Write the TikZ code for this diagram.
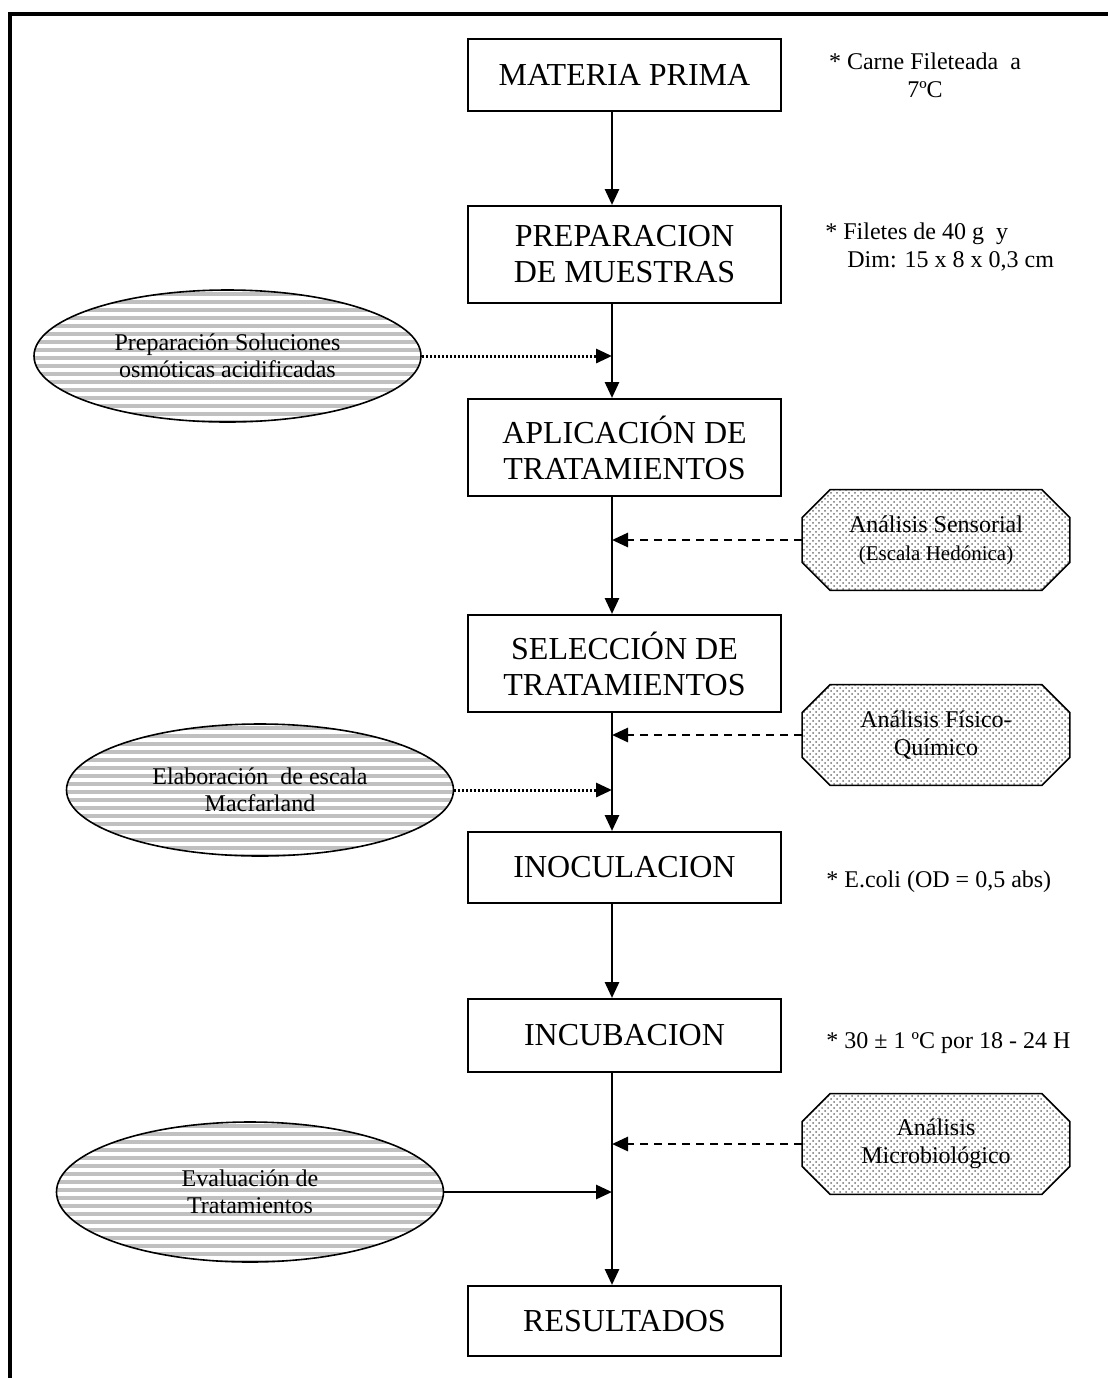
\documentclass[tikz,border=0pt]{standalone}
\usepackage{fontspec}
\setmainfont{Liberation Serif}
\usetikzlibrary{arrows.meta,shapes.geometric,patterns,backgrounds}
\definecolor{stripegray}{RGB}{192,192,192}
\begin{document}
\begin{tikzpicture}[
        x=0.5pt, y=-0.5pt,
        procbox/.style={rectangle,draw,line width=1pt,minimum width=156.5pt,align=center,
            font=\fontsize{16}{18}\selectfont,inner sep=0pt},
        sidenote/.style={font=\fontsize{12}{14}\selectfont,inner sep=0pt},
        stripes/.style={path picture={
            \foreach \k in {0,...,40}{
                \fill[stripegray] ([yshift=-\k*4pt-1pt]path picture bounding box.north west)
                    rectangle ([yshift=-\k*4pt-3pt]path picture bounding box.north east);}}},
        auxellipse/.style={ellipse,draw,line width=0.8pt,minimum width=193.5pt,minimum height=66pt,
            align=center,font=\fontsize{12}{13.5}\selectfont,inner sep=0pt,stripes},
        analysis/.style={rectangle,minimum width=133.5pt,minimum height=50pt,inner sep=0pt,
            align=center,font=\fontsize{12}{14}\selectfont},
        octagon/.style={draw,line width=0.8pt,pattern=crosshatch dots,pattern color=black!55},
        flow/.style={-{Triangle[length=8pt,width=7pt]},line width=1.4pt},
        dashflow/.style={flow,dash pattern=on 4pt off 3pt},
        dotflow/.style={flow,line width=1.5pt,dash pattern=on 1pt off 1pt}
    ]
    \useasboundingbox (0,0) rectangle (1108,1378);
    \clip (0,0) rectangle (1108,1378);
    \draw[line width=2pt] (10,1400) -- (10,14) -- (1130,14); % outer frame
    \coordinate (spine) at (612,0);

    \node[procbox,minimum height=36pt] (mp) at (624.5,75) {MATERIA PRIMA};
    \node[procbox,minimum height=48.5pt] (pm) at (624.5,254.5) {PREPARACION\\DE MUESTRAS};
    \node[procbox,minimum height=48.5pt] (at) at (624.5,447.5) {APLICACIÓN DE\\TRATAMIENTOS};
    \node[procbox,minimum height=48.5pt] (st) at (624.5,663.5) {SELECCIÓN DE\\TRATAMIENTOS};
    \node[procbox,minimum height=35.5pt] (ino) at (624.5,867.5) {INOCULACION};
    \node[procbox,minimum height=36.5pt] (inc) at (624.5,1035.5) {INCUBACION};
    \node[procbox,minimum height=35pt] (res) at (624.5,1321) {RESULTADOS};

    \node[sidenote,align=center] (n1) at (925,75) {* Carne Fileteada\ \ a\\7ºC};
    \node[sidenote,align=left,anchor=west] (n2) at (825,247) {* Filetes de 40 g\ \ y\\\hspace{11pt}Dim: 15 x 8 x 0,3 cm};
    \node[sidenote,anchor=west] (n3) at (826,882) {* E.coli (OD = 0,5 abs)};
    \node[sidenote,anchor=west] (n4) at (826,1043) {* 30 ± 1 ºC por 18 - 24 H};

    \node[auxellipse] (e1) at (227.5,356) {Preparación Soluciones\\osmóticas acidificadas};
    \node[auxellipse] (e2) at (260,790) {Elaboración\ \ de escala\\Macfarland};
    \node[auxellipse,minimum height=70pt] (e3) at (250,1192) {Evaluación de\\Tratamientos};

    \node[analysis] (a1) at (936,540) {Análisis Sensorial\\{\fontsize{10.5}{12}\selectfont(Escala Hedónica)}};
    \node[analysis] (a2) at (936,735) {Análisis Físico-\\Químico};
    \node[analysis] (a3) at (936,1144) {Análisis\\Microbiológico};
    \begin{scope}[on background layer]
        \foreach \n in {a1,a2,a3}
            \draw[octagon] ([xshift=14pt]\n.north west) -- ([xshift=-14pt]\n.north east)
                -- ([yshift=-14pt]\n.north east) -- ([yshift=14pt]\n.south east)
                -- ([xshift=-14pt]\n.south east) -- ([xshift=14pt]\n.south west)
                -- ([yshift=14pt]\n.south west) -- ([yshift=-14pt]\n.north west) -- cycle;
    \end{scope}

    \draw[flow] (mp.south -| spine) -- (pm.north -| spine);
    \draw[flow] (pm.south -| spine) -- (at.north -| spine);
    \draw[flow] (at.south -| spine) -- (st.north -| spine);
    \draw[flow] (st.south -| spine) -- (ino.north -| spine);
    \draw[flow] (ino.south -| spine) -- (inc.north -| spine);
    \draw[flow] (inc.south -| spine) -- (res.north -| spine);

    \draw[dotflow] (e1.east) -- (e1.east -| spine);
    \draw[dotflow] (e2.east) -- (e2.east -| spine);
    \draw[flow] (e3.east) -- (e3.east -| spine);
    \draw[dashflow] (a1.west) -- (a1.west -| spine);
    \draw[dashflow] (a2.west) -- (a2.west -| spine);
    \draw[dashflow] (a3.west) -- (a3.west -| spine);
\end{tikzpicture}
\end{document}
